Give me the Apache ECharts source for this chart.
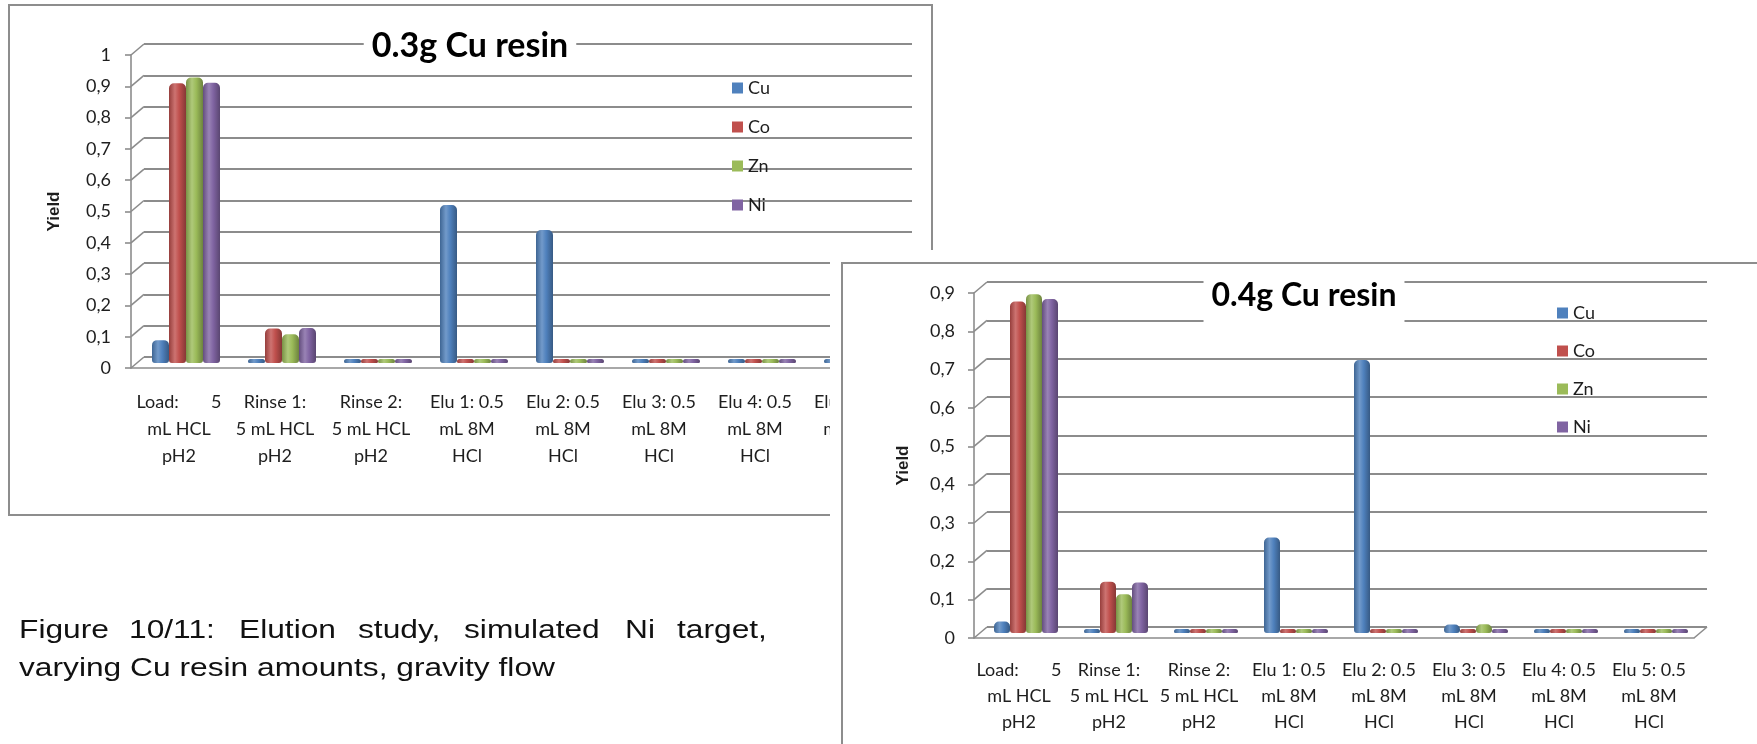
<!DOCTYPE html>
<html>
<head>
<meta charset="utf-8">
<title>Elution study</title>
<script src="https://cdn.jsdelivr.net/npm/echarts@6/dist/echarts.min.js"></script>
<style>
  html, body { margin: 0; padding: 0; background: #fff; width: 1757px; height: 744px; overflow: hidden; }
  #chartA { position: absolute; left: 0; top: 0; width: 1757px; height: 744px; }
  #chartB { position: absolute; left: 830px; top: 250px; width: 927px; height: 494px; background: #fff; }
</style>
</head>
<body>
<div id="chartA"></div>
<div id="chartB"></div>
<script>
// Elution steps (category axis)
const categories = [
  'Load:       5\nmL HCL\npH2',
  'Rinse 1:\n5 mL HCL\npH2',
  'Rinse 2:\n5 mL HCL\npH2',
  'Elu 1: 0.5\nmL 8M\nHCl',
  'Elu 2: 0.5\nmL 8M\nHCl',
  'Elu 3: 0.5\nmL 8M\nHCl',
  'Elu 4: 0.5\nmL 8M\nHCl',
  'Elu 5: 0.5\nmL 8M\nHCl'
];
const metals = ['Cu', 'Co', 'Zn', 'Ni'];
const metalColors = ['#4F81BD', '#C0504D', '#9BBB59', '#8064A2'];

// Yield per step, 0.3 g Cu resin
const cu03 = [0.073, 0.004, 0.004, 0.505, 0.425, 0.004, 0.004, 0.004];
const co03 = [0.894, 0.110, 0.004, 0.003, 0.003, 0.003, 0.003, 0.003];
const zn03 = [0.912, 0.092, 0.006, 0.003, 0.003, 0.003, 0.003, 0.003];
const ni03 = [0.895, 0.112, 0.004, 0.003, 0.003, 0.003, 0.003, 0.003];

// Yield per step, 0.4 g Cu resin
const cu04 = [0.030, 0.003, 0.003, 0.249, 0.712, 0.022, 0.003, 0.003];
const co04 = [0.865, 0.134, 0.003, 0.003, 0.008, 0.004, 0.003, 0.003];
const zn04 = [0.884, 0.101, 0.003, 0.003, 0.004, 0.023, 0.003, 0.003];
const ni04 = [0.871, 0.132, 0.003, 0.003, 0.004, 0.003, 0.003, 0.003];

// Value axis ticks
const yStep = 0.1;
const yMax03 = 1.0;
const yMax04 = 0.9;
const yAxisName = 'Yield';

// Caption below the first chart
const captionLine1 = ['Figure', '10/11:', 'Elution', 'study,', 'simulated', 'Ni', 'target,'];
const captionLine2 = 'varying Cu resin amounts, gravity flow';

const GRID_COLOR = '#8c8c8c';
const TEXT_COLOR = '#1e1e1e';
const LABEL_FONT = 'Lato';

function fmtTick(v) {
  return (Math.round(v * 10) / 10).toString().replace('.', ',');
}
function shade(hex, f) {
  const n = parseInt(hex.slice(1), 16);
  const ch = [n >> 16, (n >> 8) & 255, n & 255].map(c =>
    f >= 1 ? Math.round(c + (255 - c) * (f - 1)) : Math.round(c * f));
  return 'rgb(' + ch.join(',') + ')';
}
function cylinder(hex) {
  return new echarts.graphic.LinearGradient(0, 0, 1, 0, [
    { offset: 0, color: shade(hex, 0.78) },
    { offset: 0.35, color: shade(hex, 1.2) },
    { offset: 0.6, color: shade(hex, 1.0) },
    { offset: 1, color: shade(hex, 0.7) }
  ]);
}

// g: front plane of the plot (x, top, w, h), bar width, label spacing
function buildChart(el, cfg) {
  const chart = echarts.init(el, null, { renderer: 'canvas' });
  const g = cfg.geo;
  const DX = 13, DY = 11;      // depth of the back wall
  const BX = 7, BY = 5;        // bars sit mid-depth
  const gridAt = (dx, dy) => ({ left: g.x + dx, top: g.top - dy, width: g.w, height: g.h });
  const lineStyle = { color: GRID_COLOR, width: 1.6 };

  chart.setOption({
    animation: false,
    title: {
      text: cfg.title,
      left: cfg.titlePos[0] - 8,
      top: cfg.titlePos[1] - cfg.titlePad,
      textAlign: 'center',
      textVerticalAlign: 'middle',
      padding: [cfg.titlePad, 8],
      backgroundColor: '#fff',
      textStyle: { fontFamily: LABEL_FONT, fontWeight: 'bold', fontSize: cfg.titleSize, color: '#000' }
    },
    legend: {
      orient: 'vertical',
      left: cfg.legendPos[0],
      top: cfg.legendPos[1],
      padding: 0,
      itemGap: cfg.legendGap,
      itemWidth: 11,
      itemHeight: 11,
      icon: 'rect',
      textStyle: { fontFamily: LABEL_FONT, fontSize: 18, color: TEXT_COLOR, lineHeight: 18 },
      data: metals.map((m, i) => ({ name: m, itemStyle: { color: metalColors[i] } }))
    },
    grid: [gridAt(DX, DY), gridAt(BX, BY), gridAt(0, 0)],
    xAxis: [
      { gridIndex: 0, type: 'category', data: categories, show: false },
      { gridIndex: 1, type: 'category', data: categories, show: false },
      {
        gridIndex: 2, type: 'category', data: categories,
        axisLine: { lineStyle: lineStyle },
        axisTick: { length: 6, lineStyle: lineStyle },
        axisLabel: {
          interval: 0, margin: cfg.xLabelMargin, fontFamily: LABEL_FONT, fontSize: 18,
          lineHeight: cfg.xLabelLine, color: TEXT_COLOR
        }
      }
    ],
    yAxis: [
      {
        gridIndex: 0, type: 'value', min: 0, max: cfg.yMax, interval: yStep,
        axisLine: { show: false }, axisTick: { show: false }, axisLabel: { show: false },
        splitLine: { show: true, lineStyle: { color: GRID_COLOR, width: 2 } }
      },
      { gridIndex: 1, type: 'value', min: 0, max: cfg.yMax, interval: yStep, show: false },
      {
        gridIndex: 2, type: 'value', min: 0, max: cfg.yMax, interval: yStep,
        axisLine: { show: true, lineStyle: lineStyle },
        axisTick: { show: true, length: 6, lineStyle: lineStyle },
        splitLine: { show: false },
        axisLabel: { formatter: fmtTick, margin: cfg.yLabelMargin, fontFamily: LABEL_FONT, fontSize: 18, color: TEXT_COLOR },
        name: yAxisName, nameLocation: 'middle', nameRotate: 90, nameGap: cfg.nameGap,
        nameTextStyle: { fontFamily: 'Liberation Sans', fontWeight: 'bold', fontSize: 17, color: TEXT_COLOR }
      }
    ],
    series: cfg.series.map((vals, i) => ({
      type: 'bar', name: metals[i], xAxisIndex: 1, yAxisIndex: 1, data: vals,
      barWidth: g.bw, barGap: '0%', barMinHeight: 4,
      itemStyle: { color: cylinder(metalColors[i]), borderRadius: [5, 5, 3, 3] }
    }))
  });

  // Side wall and floor edges, joining the front axes to the back wall
  const edges = [];
  const nTicks = Math.round(cfg.yMax / yStep);
  for (let k = 0; k <= nTicks; k++) {
    const y = chart.convertToPixel({ yAxisIndex: 2 }, k * yStep);
    edges.push({ type: 'line', silent: true,
      shape: { x1: g.x, y1: y, x2: g.x + DX, y2: y - DY },
      style: { stroke: GRID_COLOR, lineWidth: 1.6 } });
  }
  const y0 = chart.convertToPixel({ yAxisIndex: 2 }, 0);
  edges.push({ type: 'line', silent: true,
    shape: { x1: g.x + g.w, y1: y0, x2: g.x + g.w + DX, y2: y0 - DY },
    style: { stroke: GRID_COLOR, lineWidth: 1.6 } });

  chart.setOption({ graphic: { elements: cfg.decor.concat(edges) } });
  return chart;
}

// Caption graphics (horizontally stretched Arial-like text, justified first line)
const captionX1 = [19, 129, 239, 358, 464, 625, 677];
const captionFont = '26px "Liberation Sans", Arial, sans-serif';
const captionScale = 1.22;
const captionEls = captionLine1.map((w, i) => ({
  type: 'text', x: captionX1[i], y: 631, scaleX: captionScale, silent: true,
  style: { text: w, x: 0, y: 0, font: captionFont, fill: '#111', verticalAlign: 'middle' }
})).concat([{
  type: 'text', x: 19, y: 669, scaleX: captionScale, silent: true,
  style: { text: captionLine2, x: 0, y: 0, font: captionFont, fill: '#111', verticalAlign: 'middle' }
}]);

buildChart(document.getElementById('chartA'), {
  title: '0.3g Cu resin',
  titlePos: [470, 46], titlePad: 6, titleSize: 34,
  legendPos: [732, 79], legendGap: 21,
  geo: { x: 131, top: 55, w: 768, h: 313, bw: 17 },
  yMax: yMax03,
  xLabelMargin: 21, xLabelLine: 27, yLabelMargin: 20, nameGap: 68,
  series: [cu03, co03, zn03, ni03],
  decor: [{
    type: 'rect', silent: true, z: -10,
    shape: { x: 9, y: 5, width: 923, height: 510 },
    style: { fill: '#fff', stroke: '#8d8d8d', lineWidth: 2 }
  }].concat(captionEls)
});

buildChart(document.getElementById('chartB'), {
  title: '0.4g Cu resin',
  titlePos: [474, 46], titlePad: 12, titleSize: 32,
  legendPos: [727, 54], legendGap: 20,
  geo: { x: 144, top: 43, w: 720, h: 345, bw: 16 },
  yMax: yMax04,
  xLabelMargin: 19, xLabelLine: 26, yLabelMargin: 19, nameGap: 62,
  series: [cu04, co04, zn04, ni04],
  decor: [{
    type: 'rect', silent: true, z: -10,
    shape: { x: 12, y: 13, width: 1000, height: 600 },
    style: { fill: '#fff', stroke: '#8d8d8d', lineWidth: 2 }
  }]
});
</script>
</body>
</html>
